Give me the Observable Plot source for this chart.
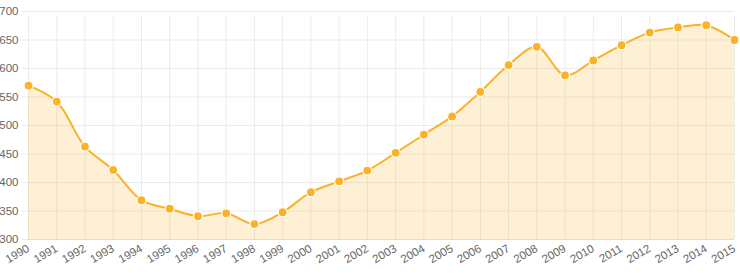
<!DOCTYPE html>
<html>
<head>
<meta charset="utf-8">
<script src="https://cdn.jsdelivr.net/npm/d3@7"></script>
<script src="https://cdn.jsdelivr.net/npm/@observablehq/plot@0.6"></script>
<style>
  html, body { margin: 0; padding: 0; background: #fff; overflow: hidden; }
  #chart svg { display: block; }
</style>
</head>
<body>
<div id="chart"></div>
<script>
const years = [1990,1991,1992,1993,1994,1995,1996,1997,1998,1999,2000,2001,2002,2003,2004,2005,2006,2007,2008,2009,2010,2011,2012,2013,2014,2015];
const values = [570,542,463,422,369,354,341,346,327,348,383,402,421,452,484,516,559,606,638,588,614,641,663,672,676,650];
const yTicks = [300,350,400,450,500,550,600,650,700];

const data = years.map((y, i) => ({year: y, value: values[i]}));
const lineColor = "#fab22a";
const gridColor = "#ebebeb";

const chart = Plot.plot({
  width: 740,
  height: 273,
  marginLeft: 28,
  marginRight: 6,
  marginTop: 11,
  marginBottom: 34,
  style: {fontFamily: "'Liberation Sans', Arial, sans-serif", color: "#666", background: "#fff"},
  x: {type: "linear", domain: [1990, 2015]},
  y: {domain: [300, 700]},
  marks: [
    Plot.ruleY(yTicks, {x1: 1990, x2: 2015, stroke: gridColor, strokeWidth: 1, insetLeft: -6}),
    Plot.ruleX(years, {y1: 300, y2: 700, stroke: gridColor, strokeWidth: 1, insetBottom: -5}),
    Plot.areaY(data, {x: "year", y1: 300, y2: "value", curve: "catmull-rom", fill: lineColor, fillOpacity: 0.2}),
    Plot.ruleY([300], {stroke: "#dcdcdc"}),
    Plot.lineY(data, {x: "year", y: "value", curve: "catmull-rom", stroke: lineColor, strokeWidth: 2}),
    Plot.dot(data, {x: "year", y: "value", r: 4.5, fill: lineColor, stroke: "#fff", strokeWidth: 1.2}),
    Plot.axisY({ticks: yTicks, tickSize: 0, tickPadding: 10, fontSize: 11.5, tickFormat: d => String(d), label: null, fill: "#666"}),
    Plot.axisX({ticks: years, tickSize: 0, tickPadding: 8, tickRotate: -30, fontSize: 11.5, tickFormat: d => String(d), label: null, fill: "#666"})
  ]
});
document.getElementById("chart").appendChild(chart);
</script>
</body>
</html>
